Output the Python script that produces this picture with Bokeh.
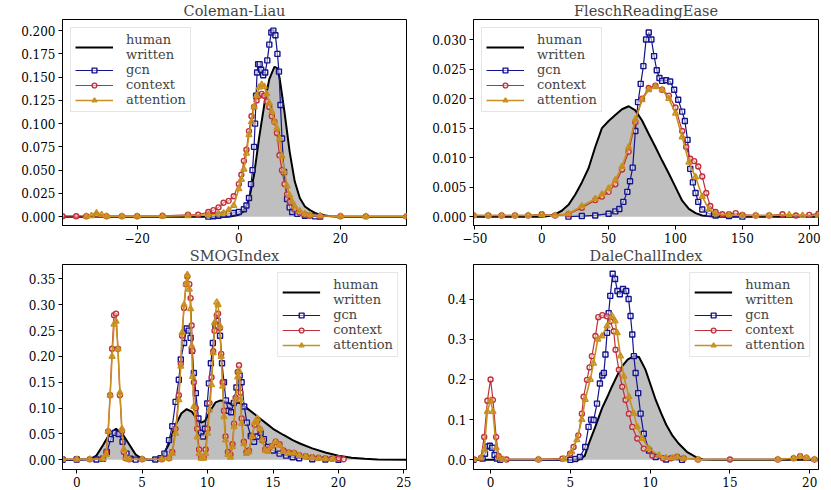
from bokeh.plotting import figure
from bokeh.models import Range1d, FixedTicker, Legend, LegendItem, Title
from bokeh.layouts import gridplot
from bokeh.embed import file_html
from bokeh.resources import INLINE

# ---------------- data: Coleman-Liau ----------------
cl_human_x = [-34.7, -5, -2, -1, 0, 1, 2, 3, 4, 5, 6, 7, 7.5, 8, 9, 10, 11, 12, 13, 14, 15, 16, 18, 20, 33]
cl_human_y = [0, 0, 0.000, 0.001, 0.002, 0.006, 0.018, 0.045, 0.085, 0.120, 0.148, 0.161, 0.160, 0.150, 0.112, 0.070, 0.038, 0.020, 0.011, 0.007, 0.004, 0.002, 0.0005, 0, 0]
cl_gcn_x = [-6, -5, -4, -3, -2, -1, 0, 1, 1.5, 2.0, 2.4, 2.7, 3.0, 3.2, 3.4, 3.6, 3.8, 4.1, 4.4, 4.8, 5.2, 5.6, 6.0, 6.4, 6.8, 7.2, 7.6, 7.9, 8.2, 8.5, 8.9, 9.5, 10.0, 10.5, 11.5, 13, 15, 16]
cl_gcn_y = [0, 0.0005, 0.001, 0.002, 0.003, 0.004, 0.005, 0.008, 0.012, 0.020, 0.035, 0.050, 0.075, 0.100, 0.130, 0.155, 0.164, 0.164, 0.158, 0.152, 0.155, 0.168, 0.185, 0.198, 0.200, 0.195, 0.175, 0.156, 0.120, 0.084, 0.048, 0.019, 0.010, 0.005, 0.003, 0.001, 0.0003, 0]
cl_ctx_x = [-34.7, -32, -30, -28, -26, -23, -20, -15, -10, -8, -6, -5, -4, -3, -2, -1, 0, 0.5, 1.0, 1.5, 2.0, 2.5, 3.0, 3.5, 4.0, 4.5, 5.0, 5.5, 6.0, 6.5, 7.0, 7.5, 8.0, 8.5, 9.0, 9.5, 10.0, 11, 12, 13, 14, 16, 20, 25, 33]
cl_ctx_y = [0.0005, 0.0005, 0.0005, 0.002, 0.0005, 0.0005, 0.0005, 0.001, 0.002, 0.002, 0.005, 0.007, 0.010, 0.015, 0.017, 0.022, 0.035, 0.045, 0.060, 0.072, 0.092, 0.108, 0.118, 0.125, 0.130, 0.132, 0.130, 0.124, 0.118, 0.108, 0.102, 0.090, 0.066, 0.050, 0.035, 0.024, 0.016, 0.008, 0.004, 0.002, 0.001, 0.0005, 0.0004, 0.0003, 0.0003]
cl_att_x = [-30, -29, -28, -27, -26, -23, -20, -15, -10, -6, -4, -3, -2, -1, 0, 0.5, 1.0, 1.5, 2.0, 2.5, 3.0, 3.5, 4.0, 4.5, 5.0, 5.5, 6.0, 6.5, 7.0, 7.5, 8.0, 8.5, 9.0, 9.5, 10.0, 10.5, 11, 12, 13, 14, 16, 20, 25, 33]
cl_att_y = [0.0003, 0.001, 0.004, 0.002, 0.0005, 0.0005, 0.0005, 0.0005, 0.001, 0.002, 0.003, 0.004, 0.007, 0.012, 0.030, 0.040, 0.051, 0.068, 0.088, 0.102, 0.118, 0.130, 0.139, 0.142, 0.140, 0.132, 0.122, 0.113, 0.102, 0.095, 0.084, 0.065, 0.048, 0.033, 0.023, 0.016, 0.011, 0.006, 0.003, 0.002, 0.001, 0.0003, 0.0002, 0.0002]

# ---------------- data: FleschReadingEase ----------------
fr_human_x = [-51, 0, 5, 10, 15, 20, 25, 30, 35, 40, 45, 50, 55, 60, 65, 70, 75, 80, 85, 90, 95, 100, 105, 110, 115, 120, 130, 206.9]
fr_human_y = [0, 0, 0.0001, 0.0004, 0.001, 0.002, 0.0037, 0.0058, 0.0082, 0.0118, 0.0150, 0.0162, 0.0172, 0.0182, 0.0187, 0.0180, 0.0163, 0.0140, 0.0118, 0.0095, 0.0073, 0.0050, 0.0027, 0.0013, 0.0006, 0.0002, 0, 0]
fr_gcn_x = [20, 30, 40, 50, 55, 58, 61, 64, 66, 68, 70, 72, 74, 76, 78, 80, 82, 84, 86, 88, 90, 93, 96, 99, 102, 105, 107, 109, 111, 113, 115, 117, 120, 125, 130, 140, 150]
fr_gcn_y = [0, 0.0001, 0.0002, 0.0005, 0.0009, 0.0013, 0.0025, 0.0042, 0.0060, 0.0083, 0.0145, 0.0194, 0.0225, 0.0255, 0.0300, 0.0312, 0.0300, 0.0272, 0.0248, 0.0235, 0.0230, 0.0231, 0.0229, 0.0215, 0.0198, 0.0178, 0.0162, 0.0130, 0.0081, 0.0058, 0.0040, 0.0025, 0.0012, 0.0005, 0.0002, 0.0001, 0]
fr_ctx_x = [-51, -40, -30, -20, -10, 0, 10, 20, 30, 40, 45, 50, 55, 60, 65, 70, 75, 80, 85, 90, 95, 100, 105, 108, 111, 114, 117, 120, 123, 126, 130, 135, 140, 145, 150, 160, 170, 180, 190, 200, 206.9]
fr_ctx_y = [0.0002, 0.0002, 0.0002, 0.0002, 0.0002, 0.0004, 0.0002, 0.0004, 0.0015, 0.0028, 0.0034, 0.0042, 0.0055, 0.0080, 0.0110, 0.0160, 0.0200, 0.0218, 0.0222, 0.0215, 0.0205, 0.0185, 0.0145, 0.0118, 0.0098, 0.0094, 0.0085, 0.0068, 0.0040, 0.0018, 0.0008, 0.0004, 0.0004, 0.0006, 0.0003, 0.0002, 0.0002, 0.0004, 0.0002, 0.0003, 0.0005]
fr_att_x = [-51, -40, -30, -20, -10, 0, 10, 20, 30, 40, 45, 50, 55, 60, 65, 70, 75, 80, 85, 90, 95, 100, 105, 110, 115, 120, 125, 130, 140, 150, 160, 170, 185, 195, 206.9]
fr_att_y = [0.0002, 0.0002, 0.0002, 0.0002, 0.0002, 0.0003, 0.0002, 0.0005, 0.0018, 0.0030, 0.0038, 0.0048, 0.0062, 0.0085, 0.0118, 0.0165, 0.0198, 0.0215, 0.0220, 0.0215, 0.0200, 0.0175, 0.0135, 0.0092, 0.0067, 0.0034, 0.0012, 0.0005, 0.0003, 0.0002, 0.0002, 0.0002, 0.0003, 0.0002, 0.0002]

# ---------------- data: SMOGIndex ----------------
sm_human_x = [-1.09, 0, 1.0, 1.5, 2.0, 2.5, 3.0, 3.5, 4.0, 4.5, 5.0, 5.5, 6.0, 6.5, 7.0, 7.5, 8.0, 8.4, 8.8, 9.2, 9.5, 9.8, 10.2, 10.6, 11.0, 11.4, 11.8, 12.4, 13.0, 13.5, 14.0, 14.5, 15.0, 15.8, 16.5, 17.1, 18.0, 19.0, 20.0, 21.0, 22.0, 23.0, 25.2]
sm_human_y = [0, 0, 0.001, 0.008, 0.028, 0.050, 0.060, 0.050, 0.030, 0.010, 0.002, 0, 0.0005, 0.005, 0.028, 0.065, 0.090, 0.098, 0.093, 0.078, 0.072, 0.075, 0.095, 0.111, 0.115, 0.112, 0.108, 0.111, 0.100, 0.090, 0.080, 0.070, 0.060, 0.048, 0.038, 0.031, 0.022, 0.014, 0.008, 0.004, 0.002, 0.0005, 0]
sm_gcn_x = [-1.09, 0, 1.5, 2.0, 2.3, 2.6, 2.9, 3.2, 3.5, 3.8, 4.1, 4.5, 6.0, 6.4, 6.7, 7.05, 7.3, 7.55, 7.8, 7.95, 8.2, 8.4, 8.55, 8.7, 8.8, 8.95, 9.1, 9.3, 9.5, 9.65, 9.8, 9.97, 10.1, 10.25, 10.4, 10.6, 10.75, 10.95, 11.1, 11.25, 11.4, 11.6, 11.8, 12.0, 12.2, 12.45, 12.6, 12.8, 13.0, 13.3, 13.55, 13.8, 14.05, 14.3, 14.6, 15.0, 15.5, 16.0, 16.5, 17.0, 18.0, 19.0, 20.0]
sm_gcn_y = [0, 0.0005, 0.0005, 0.002, 0.015, 0.040, 0.052, 0.050, 0.035, 0.012, 0.002, 0.0003, 0.0005, 0.003, 0.012, 0.038, 0.065, 0.112, 0.155, 0.194, 0.226, 0.254, 0.250, 0.236, 0.211, 0.168, 0.129, 0.080, 0.052, 0.045, 0.060, 0.109, 0.148, 0.187, 0.226, 0.260, 0.269, 0.240, 0.187, 0.150, 0.115, 0.095, 0.092, 0.110, 0.140, 0.163, 0.150, 0.103, 0.072, 0.046, 0.035, 0.045, 0.052, 0.040, 0.025, 0.018, 0.012, 0.008, 0.005, 0.003, 0.001, 0.0005, 0]
sm_ctx_x = [-1.09, 0, 1.0, 2.0, 2.25, 2.4, 2.55, 2.7, 2.85, 3.0, 3.15, 3.3, 3.45, 3.6, 3.75, 4.0, 5.0, 6.5, 7.05, 7.3, 7.55, 7.8, 7.95, 8.05, 8.2, 8.35, 8.45, 8.6, 8.7, 8.78, 8.85, 8.95, 9.1, 9.2, 9.35, 9.5, 9.7, 9.85, 10.0, 10.15, 10.3, 10.43, 10.53, 10.7, 10.8, 10.94, 11.04, 11.15, 11.25, 11.37, 11.55, 11.75, 11.9, 12.02, 12.14, 12.3, 12.4, 12.52, 12.6, 12.77, 12.97, 13.15, 13.4, 13.6, 13.8, 14.0, 14.17, 14.4, 14.6, 14.9, 15.2, 15.5, 15.8, 16.2, 16.6, 17.0, 17.5, 18.0, 18.5, 19.0, 19.5, 20.0, 20.4]
sm_ctx_y = [0.001, 0.001, 0.001, 0.002, 0.015, 0.055, 0.125, 0.215, 0.280, 0.283, 0.215, 0.125, 0.055, 0.015, 0.003, 0.001, 0.001, 0.001, 0.003, 0.015, 0.060, 0.125, 0.186, 0.240, 0.294, 0.340, 0.355, 0.340, 0.313, 0.260, 0.211, 0.150, 0.100, 0.060, 0.020, 0.005, 0.005, 0.020, 0.060, 0.110, 0.160, 0.210, 0.250, 0.280, 0.283, 0.255, 0.205, 0.150, 0.095, 0.045, 0.015, 0.010, 0.030, 0.070, 0.120, 0.170, 0.183, 0.130, 0.080, 0.035, 0.015, 0.018, 0.045, 0.068, 0.075, 0.058, 0.038, 0.020, 0.018, 0.027, 0.035, 0.030, 0.018, 0.014, 0.013, 0.009, 0.007, 0.005, 0.004, 0.003, 0.002, 0.003, 0.001]
sm_att_x = [-1.09, 0, 1.0, 2.0, 2.25, 2.4, 2.55, 2.7, 2.85, 3.0, 3.15, 3.3, 3.45, 3.6, 3.75, 4.0, 5.0, 6.5, 7.05, 7.3, 7.55, 7.8, 7.95, 8.05, 8.2, 8.35, 8.45, 8.6, 8.7, 8.78, 8.85, 8.95, 9.2, 9.35, 9.5, 9.7, 9.85, 10.0, 10.15, 10.3, 10.43, 10.53, 10.7, 10.8, 10.94, 11.04, 11.15, 11.25, 11.37, 11.55, 11.75, 11.9, 12.02, 12.14, 12.3, 12.4, 12.52, 12.6, 12.77, 12.97, 13.15, 13.4, 13.6, 13.8, 14.0, 14.17, 14.4, 14.6, 14.9, 15.2, 15.5, 15.8, 16.2, 16.6, 17.0, 17.5, 18.0, 18.5, 19.0, 19.6]
sm_att_y = [0.001, 0.001, 0.001, 0.002, 0.010, 0.055, 0.125, 0.200, 0.262, 0.268, 0.215, 0.130, 0.060, 0.020, 0.003, 0.001, 0.001, 0.001, 0.003, 0.012, 0.051, 0.116, 0.181, 0.246, 0.300, 0.340, 0.358, 0.330, 0.292, 0.220, 0.161, 0.103, 0.044, 0.012, 0.003, 0.003, 0.012, 0.051, 0.096, 0.145, 0.207, 0.265, 0.305, 0.300, 0.259, 0.200, 0.142, 0.083, 0.038, 0.010, 0.005, 0.025, 0.064, 0.116, 0.160, 0.172, 0.116, 0.070, 0.031, 0.012, 0.015, 0.045, 0.072, 0.080, 0.060, 0.038, 0.018, 0.016, 0.025, 0.035, 0.028, 0.016, 0.013, 0.013, 0.008, 0.006, 0.004, 0.003, 0.002, 0.001]

# ---------------- data: DaleChallIndex ----------------
dc_human_x = [-1.07, 5.5, 5.9, 6.2, 6.56, 7.0, 7.3, 7.6, 8.0, 8.25, 8.6, 9.0, 9.3, 9.7, 10.0, 10.35, 10.7, 11.0, 11.4, 11.8, 12.3, 12.9, 13.3, 14.0, 20.55]
dc_human_y = [0, 0, 0.010, 0.045, 0.082, 0.130, 0.155, 0.182, 0.215, 0.233, 0.250, 0.258, 0.256, 0.225, 0.190, 0.149, 0.115, 0.088, 0.060, 0.040, 0.020, 0.006, 0.001, 0, 0]
dc_gcn_x = [-1.07, -0.5, -0.35, -0.2, -0.05, 0.1, 0.25, 0.4, 0.6, 5.0, 5.3, 5.6, 5.93, 6.14, 6.3, 6.46, 6.67, 6.85, 7.0, 7.1, 7.2, 7.3, 7.4, 7.5, 7.65, 7.8, 7.95, 8.1, 8.3, 8.5, 8.65, 8.77, 8.88, 8.98, 9.09, 9.25, 9.4, 9.6, 9.93, 10.35, 11.0, 12.0]
dc_gcn_y = [0, 0.003, 0.015, 0.033, 0.035, 0.030, 0.012, 0.003, 0.0, 0.0, 0.002, 0.007, 0.032, 0.082, 0.100, 0.099, 0.140, 0.190, 0.210, 0.216, 0.262, 0.316, 0.365, 0.408, 0.463, 0.450, 0.420, 0.412, 0.425, 0.420, 0.400, 0.358, 0.312, 0.258, 0.216, 0.166, 0.115, 0.065, 0.023, 0.007, 0.001, 0]
dc_ctx_x = [-1.07, -0.6, -0.4, -0.2, 0.0, 0.15, 0.35, 0.5, 0.7, 1.0, 3.0, 4.5, 4.98, 5.2, 5.5, 5.72, 5.83, 6.04, 6.2, 6.35, 6.57, 6.75, 7.0, 7.3, 7.5, 7.72, 7.83, 8.04, 8.25, 8.46, 8.67, 8.88, 9.19, 9.6, 10.14, 10.8, 11.3, 11.7, 12.1, 13.0, 15.0, 18.0, 19.0, 19.4, 19.8, 20.3]
dc_ctx_y = [0.001, 0.005, 0.057, 0.147, 0.200, 0.149, 0.057, 0.010, 0.002, 0.001, 0.001, 0.003, 0.015, 0.032, 0.061, 0.115, 0.157, 0.199, 0.230, 0.258, 0.308, 0.355, 0.360, 0.357, 0.345, 0.320, 0.274, 0.224, 0.182, 0.149, 0.115, 0.082, 0.053, 0.028, 0.011, 0.004, 0.004, 0.008, 0.004, 0.001, 0.001, 0.001, 0.004, 0.009, 0.005, 0.001]
dc_att_x = [-1.07, -0.6, -0.4, -0.2, 0.0, 0.15, 0.35, 0.55, 0.8, 3.0, 4.6, 5.09, 5.41, 5.72, 5.93, 6.25, 6.45, 6.72, 6.98, 7.3, 7.61, 7.8, 7.93, 8.14, 8.35, 8.67, 8.98, 9.19, 9.51, 9.93, 10.56, 11.0, 11.4, 11.7, 12.1, 13.0, 18.0, 19.0, 19.4, 19.8, 20.3]
dc_att_y = [0.001, 0.005, 0.025, 0.120, 0.148, 0.120, 0.030, 0.005, 0.001, 0.001, 0.002, 0.020, 0.050, 0.100, 0.150, 0.200, 0.240, 0.300, 0.308, 0.333, 0.358, 0.345, 0.316, 0.258, 0.208, 0.157, 0.115, 0.082, 0.053, 0.028, 0.011, 0.005, 0.005, 0.007, 0.004, 0.001, 0.001, 0.004, 0.008, 0.005, 0.001]

# ---------------- ticks ----------------
cl_xticks = [-20, 0, 20]
cl_yticks = [0.0, 0.025, 0.05, 0.075, 0.1, 0.125, 0.15, 0.175, 0.2]
fr_xticks = [-50, 0, 50, 100, 150, 200]
fr_yticks = [0.0, 0.005, 0.01, 0.015, 0.02, 0.025, 0.03]
sm_xticks = [0, 5, 10, 15, 20, 25]
sm_yticks = [0.0, 0.05, 0.1, 0.15, 0.2, 0.25, 0.3, 0.35]
dc_xticks = [0, 5, 10, 15, 20]
dc_yticks = [0.0, 0.1, 0.2, 0.3, 0.4]

series_names = ["human\nwritten", "gcn", "context", "attention"]

FONT = "DejaVu Serif"
GCN_C = "#14148c"
CTX_C = "#c0303a"
ATT_C = "#c8901e"
FILL_C = "#bfbfbf"


def fmt_minus(v, fmt):
    s = fmt.format(v)
    return s.replace("-", "\u2212")


def make_panel(title, xr, yr, xt, yt, yfmt, data, legend_loc, width, height, mb_left, mb_right):
    p = figure(width=width, height=height, x_range=Range1d(*xr), y_range=Range1d(*yr),
               output_backend="svg", toolbar_location=None,
               min_border_left=mb_left, min_border_right=mb_right,
               min_border_top=0, min_border_bottom=0)
    p.title = Title(text=title, align="center", text_font=FONT, text_font_size="14.5px",
                    text_font_style="normal", standoff=1, offset=0)
    p.xgrid.visible = False
    p.ygrid.visible = False
    p.outline_line_color = "black"
    p.outline_line_width = 1
    p.outline_line_alpha = 1
    p.background_fill_color = "white"
    p.border_fill_color = "white"
    for ax in (p.xaxis[0], p.yaxis[0]):
        ax.axis_line_color = "black"
        ax.major_tick_line_color = "black"
        ax.major_tick_out = 4
        ax.major_tick_in = 0
        ax.minor_tick_line_color = None
        ax.major_label_text_font = FONT
        ax.major_label_text_font_size = "12px"
        ax.major_label_text_color = "black"
        ax.major_label_standoff = 3
        ax.axis_label_standoff = 0
    p.xaxis.ticker = FixedTicker(ticks=xt)
    p.yaxis.ticker = FixedTicker(ticks=yt)
    p.xaxis.major_label_overrides = {v: fmt_minus(v, "{:g}") for v in xt}
    p.yaxis.major_label_overrides = {v: fmt_minus(v, yfmt) for v in yt}

    (hx, hy), (gx, gy), (cx, cy), (ax_, ay) = data
    p.varea(x=hx, y1=[0] * len(hx), y2=hy, fill_color=FILL_C, fill_alpha=1)
    hl = p.line(hx, hy, line_color="black", line_width=2)
    gl = p.line(gx, gy, line_color=GCN_C, line_width=1.2)
    gs = p.scatter(gx, gy, marker="square", size=5, line_color=GCN_C, fill_color="white", fill_alpha=0.5, line_width=1.4)
    cl = p.line(cx, cy, line_color=CTX_C, line_width=1.2)
    cs = p.scatter(cx, cy, marker="circle", size=5, line_color=CTX_C, fill_color="white", fill_alpha=0.5, line_width=1.4)
    al = p.line(ax_, ay, line_color=ATT_C, line_width=1.6)
    as_ = p.scatter(ax_, ay, marker="triangle", size=6, line_color=ATT_C, fill_color=ATT_C, fill_alpha=0.5, line_width=1.4)

    legend = Legend(items=[
        LegendItem(label=series_names[0], renderers=[hl]),
        LegendItem(label=series_names[1], renderers=[gl, gs]),
        LegendItem(label=series_names[2], renderers=[cl, cs]),
        LegendItem(label=series_names[3], renderers=[al, as_]),
    ], location=legend_loc)
    legend.label_text_font = FONT
    legend.label_text_font_size = "13px"
    legend.label_text_line_height = 0.75
    legend.glyph_width = 38
    legend.glyph_height = 12
    legend.label_height = 12
    legend.label_standoff = 13
    legend.spacing = 0
    legend.padding = 4
    legend.margin = 8
    legend.border_line_color = "#cccccc"
    legend.border_line_width = 1
    legend.background_fill_alpha = 0.8
    p.add_layout(legend)
    return p


p1 = make_panel("Coleman-Liau", (-34.7, 33.0), (-0.0095, 0.212), cl_xticks, cl_yticks, "{:.3f}",
                [(cl_human_x, cl_human_y), (cl_gcn_x, cl_gcn_y), (cl_ctx_x, cl_ctx_y), (cl_att_x, cl_att_y)],
                "top_left", 415, 245, 62, 9)
p2 = make_panel("FleschReadingEase", (-51, 206.9), (-0.0015, 0.0334), fr_xticks, fr_yticks, "{:.3f}",
                [(fr_human_x, fr_human_y), (fr_gcn_x, fr_gcn_y), (fr_ctx_x, fr_ctx_y), (fr_att_x, fr_att_y)],
                "top_left", 415, 245, 58, 12)
p3 = make_panel("SMOGIndex", (-1.09, 25.2), (-0.0188, 0.378), sm_xticks, sm_yticks, "{:.2f}",
                [(sm_human_x, sm_human_y), (sm_gcn_x, sm_gcn_y), (sm_ctx_x, sm_ctx_y), (sm_att_x, sm_att_y)],
                "top_right", 415, 244, 62, 9)
p4 = make_panel("DaleChallIndex", (-1.07, 20.55), (-0.024, 0.486), dc_xticks, dc_yticks, "{:.1f}",
                [(dc_human_x, dc_human_y), (dc_gcn_x, dc_gcn_y), (dc_ctx_x, dc_ctx_y), (dc_att_x, dc_att_y)],
                "top_right", 415, 244, 58, 12)

grid = gridplot([[p1, p2], [p3, p4]], toolbar_location=None)

open("out.html", "w").write(file_html(grid, INLINE))
